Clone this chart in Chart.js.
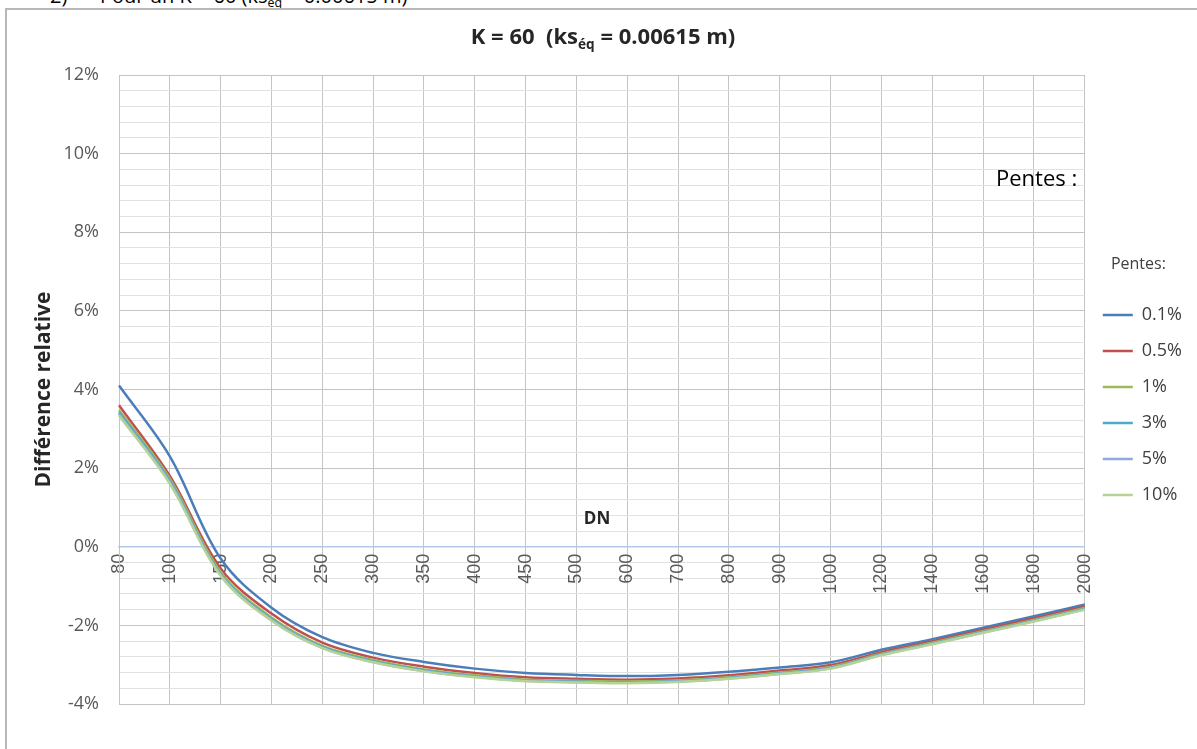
<!DOCTYPE html>
<html>
<head>
<meta charset="utf-8">
<script src="https://cdn.jsdelivr.net/npm/chart.js@4.4.1/dist/chart.umd.min.js"></script>
<style>
  html, body { margin: 0; padding: 0; background: #fff; overflow: hidden; width: 1197px; height: 749px; }
  #frame { position: absolute; left: 5px; top: 8px; width: 1260px; height: 800px; border: 2px solid #b8b8b8; box-sizing: border-box; }
  canvas { position: absolute; left: 0; top: 0; }
  .txt { position: absolute; font-family: "Open Sans", sans-serif; white-space: nowrap; line-height: 20px; }
  .txt sub { font-size: 0.62em; vertical-align: -0.35em; line-height: 0; }
</style>
</head>
<body>
<div class="txt" style="left:50px; top:-14px; font-size:20px; color:#000;">2)</div>
<div class="txt" style="left:100px; top:-14px; font-size:20px; color:#000;">Pour un K = 60 (ks<sub>éq</sub> = 0.00615 m)</div>
<div id="frame"></div>
<canvas id="chart" width="1197" height="749"></canvas>
<div class="txt" style="left:403px; width:400px; text-align:center; top:25px; font-size:22px; font-weight:700; color:#262626;">K = 60&nbsp; (ks<sub>éq</sub> = 0.00615 m)</div>
<div class="txt" style="left:996px; top:166px; font-size:22px; line-height:22px; color:#000;">Pentes :</div>
<div class="txt" style="left:547px; width:100px; text-align:center; top:508px; font-size:17px; font-weight:700; color:#262626;">DN</div>
<script>
// Diamètres nominaux (axe des catégories)
const dn = ['80', '100', '150', '200', '250', '300', '350', '400', '450', '500',
            '600', '700', '800', '900', '1000', '1200', '1400', '1600', '1800', '2000'];

// Différence relative (%) pour chaque pente
const pente01 = [4.10, 2.30, -0.30, -1.55, -2.30, -2.70, -2.93, -3.10, -3.21, -3.26,
                 -3.29, -3.26, -3.18, -3.07, -2.94, -2.62, -2.35, -2.06, -1.77, -1.47];
const pente05 = [3.60, 1.80, -0.55, -1.70, -2.44, -2.82, -3.05, -3.21, -3.32, -3.36,
                 -3.38, -3.35, -3.27, -3.15, -3.01, -2.68, -2.40, -2.11, -1.82, -1.52];
const pente1  = [3.48, 1.73, -0.65, -1.80, -2.52, -2.88, -3.12, -3.27, -3.38, -3.41,
                 -3.43, -3.40, -3.32, -3.20, -3.06, -2.72, -2.44, -2.15, -1.86, -1.56];
const pente3  = [3.42, 1.68, -0.70, -1.84, -2.55, -2.91, -3.14, -3.30, -3.40, -3.43,
                 -3.45, -3.42, -3.34, -3.22, -3.08, -2.74, -2.46, -2.17, -1.88, -1.58];
const pente5  = [3.38, 1.64, -0.72, -1.86, -2.57, -2.93, -3.16, -3.31, -3.41, -3.44,
                 -3.46, -3.43, -3.35, -3.23, -3.09, -2.75, -2.47, -2.18, -1.89, -1.59];
const pente10 = [3.34, 1.60, -0.74, -1.88, -2.58, -2.94, -3.17, -3.32, -3.42, -3.45,
                 -3.47, -3.44, -3.36, -3.24, -3.10, -2.76, -2.48, -2.19, -1.90, -1.60];

const seriesNames  = ['0.1%', '0.5%', '1%', '3%', '5%', '10%'];
const seriesValues = [pente01, pente05, pente1, pente3, pente5, pente10];
const seriesColors = ['#4a7ebb', '#c0504d', '#9bbb59', '#4bacc6', '#8eaadb', '#b5d397'];

// Axe vertical : -4 % à 12 %, graduations principales tous les 2 %
const yMin = -4, yMax = 12, yMajor = 2, yMinor = 0.4;

const isMajor = v => Math.abs(v / yMajor - Math.round(v / yMajor)) < 1e-6;

const datasets = seriesNames.map((name, i) => ({
  label: name,
  data: seriesValues[i],
  borderColor: seriesColors[i],
  backgroundColor: seriesColors[i],
  borderWidth: 2.5,
  pointRadius: 0,
  pointHoverRadius: 0,
  tension: 0.35,
  fill: false,
  order: seriesNames.length - i   // les dernières séries passent au-dessus
}));

new Chart(document.getElementById('chart'), {
  type: 'line',
  data: { labels: dn, datasets },
  options: {
    responsive: false,
    animation: false,
    devicePixelRatio: 1,
    layout: { padding: { top: 75, bottom: 45, left: 0, right: 5 } },
    plugins: {
      title: { display: false },
      tooltip: { enabled: false },
      legend: {
        position: 'right',
        align: 'center',
        title: {
          display: true,
          text: 'Pentes:',
          color: '#404040',
          font: { family: '"Open Sans", sans-serif', size: 16 },
          padding: { top: 0, bottom: 12 }
        },
        labels: {
          usePointStyle: true,
          pointStyle: 'line',
          pointStyleWidth: 30,
          padding: 18,
          color: '#404040',
          font: { family: '"Open Sans", sans-serif', size: 18 },
          sort: (a, b) => a.datasetIndex - b.datasetIndex
        }
      }
    },
    scales: {
      x: {
        type: 'category',
        position: { y: 0 },
        offset: false,
        grid: { color: '#c4c4c4', lineWidth: 1, drawTicks: false },
        border: { color: '#b4c9e8', width: 1.5 },
        ticks: {
          autoSkip: false,
          minRotation: 90,
          maxRotation: 90,
          padding: 7,
          color: '#595959',
          font: { family: '"Liberation Sans", Arial, sans-serif', size: 18 }
        }
      },
      y: {
        min: yMin,
        max: yMax,
        afterFit: scale => { scale.width = 119; },
        grid: {
          drawTicks: false,
          lineWidth: 1,
          color: ctx => {
            const v = ctx.tick.value;
            if (Math.abs(v) < 1e-6) return 'rgba(0,0,0,0)';
            return isMajor(v) ? '#c4c4c4' : '#e2e2e2';
          }
        },
        border: { color: '#c4c4c4', width: 1 },
        ticks: {
          stepSize: yMinor,
          maxTicksLimit: 100,
          autoSkip: false,
          padding: 20,
          color: '#595959',
          font: { family: '"Open Sans", sans-serif', size: 18 },
          callback: v => isMajor(v) ? Math.round(v) + '%' : ''
        },
        title: {
          display: true,
          text: 'Différence relative',
          color: '#262626',
          font: { family: '"Open Sans", sans-serif', size: 21, weight: 'bold' },
          padding: { top: 31, bottom: 0 }
        }
      }
    }
  }
});
</script>
</body>
</html>
